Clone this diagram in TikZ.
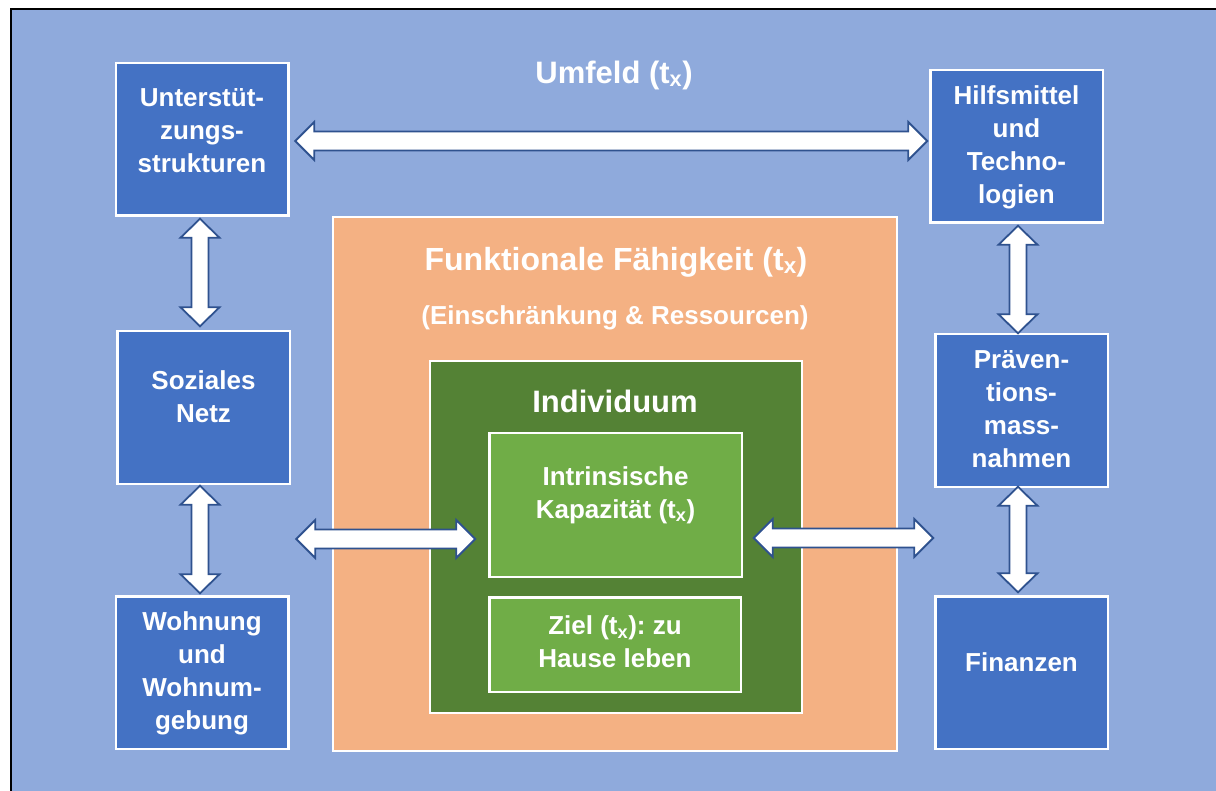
\documentclass[tikz,border=0pt]{standalone}
\usepackage{fontspec}
\setmainfont{Liberation Sans}
\usetikzlibrary{calc}
\definecolor{bgblue}{HTML}{8FAADC}
\definecolor{boxblue}{HTML}{4472C4}
\definecolor{arrblue}{HTML}{2F528F}
\definecolor{orng}{HTML}{F4B183}
\definecolor{dgreen}{HTML}{548235}
\definecolor{lgreen}{HTML}{70AD47}
\frenchspacing
\newcommand{\hblockarrow}[2]{\draw[blockarrow] let \p1=#1, \p2=#2 in
  (\x1,\y1) -- (\x1+19pt,\y1+19pt) -- (\x1+19pt,\y1+9.5pt) -- (\x2-19pt,\y1+9.5pt) -- (\x2-19pt,\y1+19pt)
  -- (\x2,\y1) -- (\x2-19pt,\y1-19pt) -- (\x2-19pt,\y1-9.5pt) -- (\x1+19pt,\y1-9.5pt) -- (\x1+19pt,\y1-19pt) -- cycle;}
\newcommand{\vblockarrow}[2]{\draw[blockarrow] let \p1=#1, \p2=#2 in
  (\x1,\y1) -- (\x1+19.5pt,\y1-19pt) -- (\x1+8.5pt,\y1-19pt) -- (\x1+8.5pt,\y2+19pt) -- (\x1+19.5pt,\y2+19pt)
  -- (\x1,\y2) -- (\x1-19.5pt,\y2+19pt) -- (\x1-8.5pt,\y2+19pt) -- (\x1-8.5pt,\y1-19pt) -- (\x1-19.5pt,\y1-19pt) -- cycle;}
\begin{document}
\begin{tikzpicture}[x=1pt,y=-1pt,
  panel/.style={draw=white,line width=2.5pt,inner sep=0pt,outer sep=0pt},
  bluebox/.style={panel,fill=boxblue,minimum width=172.5pt,minimum height=152.5pt},
  boxtext/.style={text=white,font=\bfseries\frenchspacing\fontsize{26}{33}\selectfont,align=center,inner sep=0pt},
  titletext/.style={text=white,font=\bfseries\fontsize{31}{38}\selectfont,align=center,inner sep=0pt},
  blockarrow/.style={draw=arrblue,fill=white,line width=1.8pt,line join=miter}]
\useasboundingbox (0,0) rectangle (1216,791);
\fill[white] (0,0) rectangle (1216,791);
\fill[bgblue] (11,9.5) rectangle (1216,791);
\draw[black,line width=2pt] (11,791) -- (11,9.5) -- (1216,9.5);

% outer boxes
\node[bluebox] (unt) at (202,139.5) {};
\node[bluebox] (hilf) at (1016.5,146.5) {};
\node[bluebox] (soz) at (203.5,407.5) {};
\node[bluebox] (praev) at (1021.5,410.5) {};
\node[bluebox] (woh) at (202,672.5) {};
\node[bluebox] (fin) at (1021.5,672.5) {};

\node[boxtext] (tunt) at (202,131) {Unterstüt-\\zungs-\\strukturen};
\node[boxtext] (thilf) at (1016.5,147) {Hilfsmittel\\und\\Techno-\\logien};
\node[boxtext] (tsoz) at (203.5,397) {Soziales\\Netz};
\node[boxtext] (tpraev) at (1021.5,409) {Präven-\\tions-\\mass-\\nahmen};
\node[boxtext] (twoh) at (202,673) {Wohnung\\und\\Wohnum-\\gebung};
\node[boxtext] (tfin) at (1021.5,662) {Finanzen};

\node[titletext] (umfeld) at (614,75) {Umfeld (t\textsubscript{x})};

% central nested boxes
\node[panel,draw=white,line width=2pt,fill=orng,minimum width=564pt,minimum height=534pt] (funk) at (615,484) {};
\node[titletext,font=\bfseries\fontsize{32}{38}\selectfont] (tfunk) at (616,262) {Funktionale Fähigkeit (t\textsubscript{x})};
\node[boxtext] (tein) at (615,318) {(Einschränkung \& Ressourcen)};
\node[panel,line width=2pt,fill=dgreen,minimum width=372pt,minimum height=352pt] (indiv) at (616,537) {};
\node[titletext] (tindiv) at (615,401) {Individuum};
\node[panel,fill=lgreen,minimum width=252.5pt,minimum height=143.5pt] (intr) at (615.5,505) {};
\node[boxtext] (tintr) at (615.5,495) {Intrinsische\\Kapazität (t\textsubscript{x})};
\node[panel,fill=lgreen,minimum width=251.5pt,minimum height=94.5pt] (ziel) at (615,644.5) {};
\node[boxtext] (tziel) at (615,641.5) {Ziel (t\textsubscript{x}): zu\\Hause leben};

% arrows
\hblockarrow{($(unt.east)+(7,1.5)$)}{($(hilf.west)+(-3,0)$)}
\hblockarrow{($(intr.west)+(-193,34)$)}{($(intr.west)+(-14,34)$)}
\hblockarrow{($(intr.east)+(12,33)$)}{($(praev.west)+(-2,0)$)}
\vblockarrow{($(unt.south)+(-2,3)$)}{($(soz.north)+(-3.5,-5)$)}
\vblockarrow{($(soz.south)+(-3.5,2)$)}{($(woh.north)+(-2,-3)$)}
\vblockarrow{($(hilf.south)+(1.5,3)$)}{($(praev.north)+(-3.5,-1)$)}
\vblockarrow{($(praev.south)+(-3.5,0)$)}{($(fin.north)+(-3.5,-4)$)}
\end{tikzpicture}
\end{document}
